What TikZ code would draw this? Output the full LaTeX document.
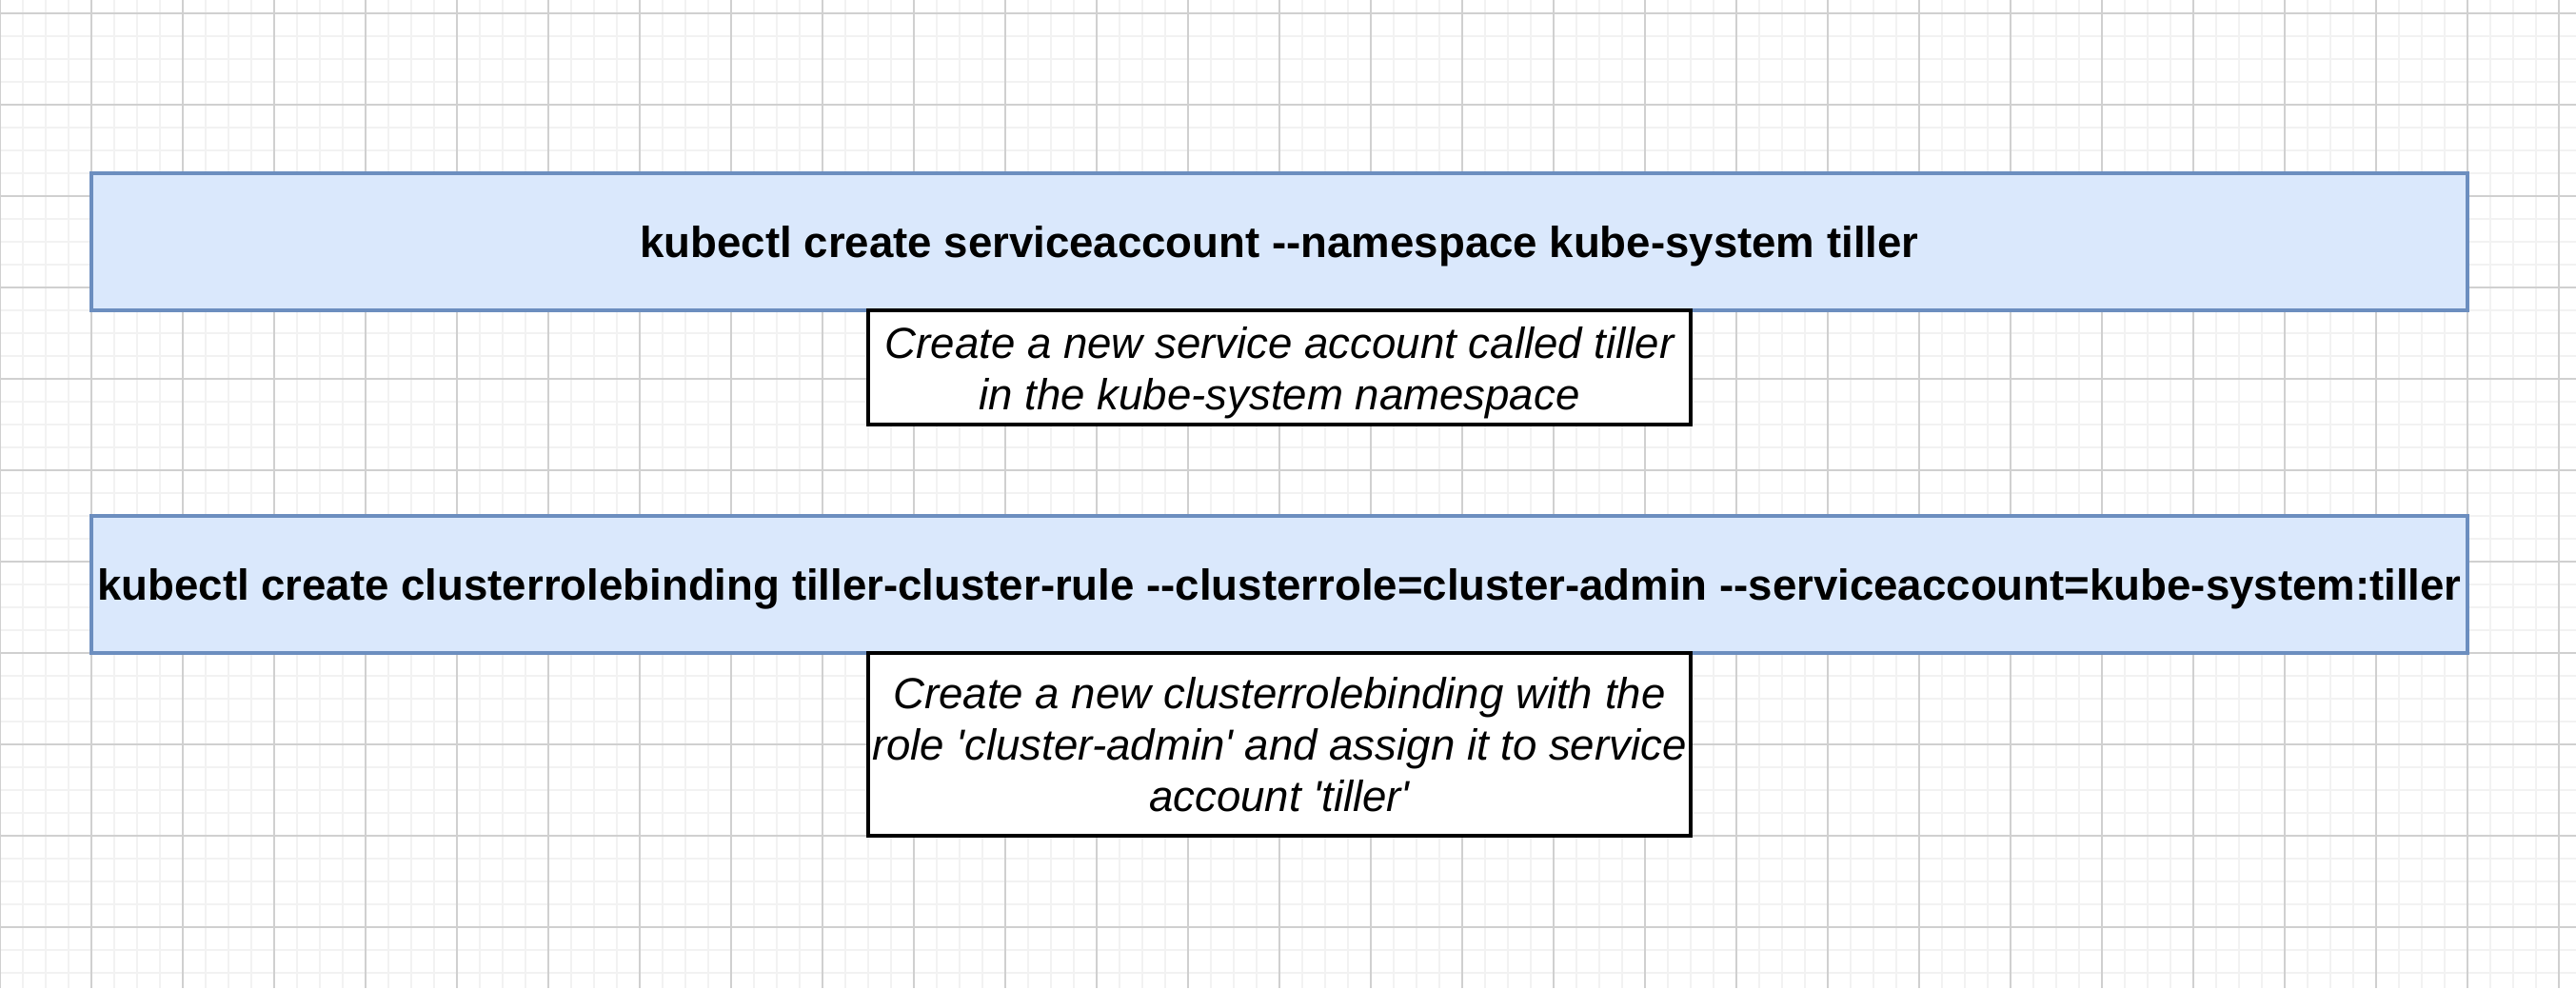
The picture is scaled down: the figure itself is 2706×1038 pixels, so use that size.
\documentclass[tikz,border=0pt]{standalone}
\usepackage{fontspec}
\newfontfamily\lsans{Liberation Sans}
\definecolor{gridmajor}{HTML}{D0D0D0}
\definecolor{gridminor}{HTML}{F2F2F2}
\definecolor{cmdfill}{HTML}{DAE8FC}
\definecolor{cmdline}{HTML}{6C8EBF}
\tikzset{
  cmdbox/.style={draw=cmdline, fill=cmdfill, line width=1pt, inner sep=0pt,
    minimum width=624pt, minimum height=36pt, align=center,
    text height=10.7pt, text depth=2.4pt,
    font=\lsans\bfseries\fontsize{11.4}{13.5}\selectfont},
  notebox/.style={draw=black, fill=white, line width=0.9pt, inner sep=0pt,
    minimum width=216pt, align=center,
    font=\lsans\itshape\fontsize{11.4}{13.5}\selectfont},
  minorgrid/.style={draw=gridminor, line width=0.5pt},
  majorgrid/.style={draw=gridmajor, line width=0.3pt}
}
\begin{document}
\begin{tikzpicture}[x=0.25pt, y=-0.25pt]
\useasboundingbox[fill=white] (0,0) rectangle (2706,1038);
% grid
\foreach \x in {0,24,...,2700} \draw[minorgrid] (\x,0) -- (\x,1038);
\foreach \y in {14,38,...,1030} \draw[minorgrid] (0,\y) -- (2706,\y);
\foreach \x in {0,96,...,2700} \draw[majorgrid] (\x,0) -- (\x,1038);
\foreach \y in {14,110,...,1030} \draw[majorgrid] (0,\y) -- (2706,\y);
% boxes
\node[cmdbox] (cmd1) at (1344,254) {kubectl create serviceaccount --namespace kube-system tiller};
\node[notebox, minimum height=30pt] (note1) at (1344,386)
  {\rule{0pt}{10.9pt}Create a new service account called tiller\\in the kube-system namespace};
\node[cmdbox] (cmd2) at (1344,614) {kubectl create clusterrolebinding tiller-cluster-rule --clusterrole=cluster-admin --serviceaccount=kube-system:tiller};
\node[notebox, minimum height=48pt] (note2) at (1344,782)
  {Create a new clusterrolebinding with the\\role 'cluster-admin' and assign it to service\\account 'tiller'};
\end{tikzpicture}
\end{document}
